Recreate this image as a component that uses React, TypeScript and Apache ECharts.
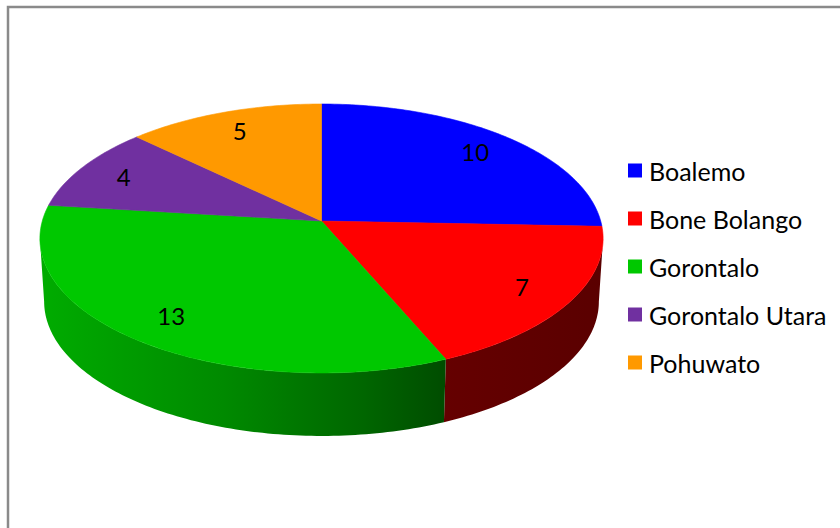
import React, { useEffect, useRef } from "react";
import * as echarts from "echarts";

// ---- data ----
const categories = ["Boalemo", "Bone Bolango", "Gorontalo", "Gorontalo Utara", "Pohuwato"];
const values = [10, 7, 13, 4, 5];
const topColors = ["#0000FF", "#FF0000", "#00C800", "#7030A0", "#FF9900"];
const sideStops = [
  [[0, "#00007a"], [1, "#000050"]],
  [[0, "#650000"], [1, "#5a0000"]],
  [[0, "#00ac00"], [0.45, "#008a00"], [0.8, "#006600"], [1, "#004c00"]],
  [[0, "#3a1656"], [1, "#2a0f40"]],
  [[0, "#8a5200"], [1, "#6a3e00"]],
];

// ---- layout (3D projection of the pie) ----
const CX = 321.5;
const CY = 221;
const RX = 279.2;
const RY = 132.2;
const K = 0.13; // perspective
const DEPTH = 63;
const BOTTOM_SCALE = 0.985;
const LABEL_R = 0.82;

const total = values.reduce((a, b) => a + b, 0);
const cum: number[] = [];
values.reduce((acc, v, i) => {
  cum[i] = acc;
  return acc + v;
}, 0);

function proj(theta: number, r: number, bottom: boolean): number[] {
  const u = r * Math.sin(theta);
  const v = r * Math.cos(theta);
  const w = 1 + K * v;
  const sx = bottom ? BOTTOM_SCALE : 1;
  return [CX + (RX * u * sx) / w, CY - (RY * v) / w + (bottom ? DEPTH : 0)];
}

function arc(a0: number, a1: number, r: number, bottom: boolean): number[][] {
  const n = Math.max(2, Math.ceil((Math.abs(a1 - a0) / (2 * Math.PI)) * 360));
  const pts: number[][] = [];
  for (let i = 0; i <= n; i++) {
    pts.push(proj(a0 + ((a1 - a0) * i) / n, r, bottom));
  }
  return pts;
}

const VIS0 = Math.acos(-K);
const VIS1 = 2 * Math.PI - Math.acos(-K);

function makeRenderItem(idx: number) {
  return (params: any, api: any) => {
    const val = api.value(0);
    const start = (cum[idx] / total) * 2 * Math.PI;
    const end = start + (val / total) * 2 * Math.PI;
    const children: any[] = [];
    const a0 = Math.max(start, VIS0);
    const a1 = Math.min(end, VIS1);
    if (a1 > a0) {
      const pts = arc(a0, a1, 1, false).concat(arc(a1, a0, 1, true));
      const mid = (a0 + a1) / 2;
      children.push({
        type: "polygon",
        shape: { points: pts },
        style: {
          fill: new echarts.graphic.LinearGradient(
            0, 0, 1, 0,
            sideStops[idx].map((s: any) => ({ offset: s[0], color: s[1] }))
          ),
        },
        z2: 10 + Math.round(-Math.cos(mid) * 10),
      });
    }
    const topPts = [[CX, CY]].concat(arc(start, end, 1, false));
    children.push({
      type: "polygon",
      shape: { points: topPts },
      style: { fill: topColors[idx], stroke: topColors[idx], lineWidth: 0.6 },
      z2: 100,
    });
    const m = (start + end) / 2;
    const lp = proj(m, LABEL_R, false);
    children.push({
      type: "text",
      x: lp[0],
      y: lp[1],
      style: {
        text: String(val),
        fill: "#000",
        fontFamily: "Lato",
        fontSize: 24,
        align: "center",
        verticalAlign: "middle",
      },
      z2: 200,
    });
    return { type: "group", children };
  };
}

export default function App() {
  const ref = useRef<HTMLDivElement>(null);
  useEffect(() => {
    document.body.style.margin = "0";
    if (!ref.current) return;
    const chart = echarts.init(ref.current, undefined, { renderer: "svg" });
    chart.setOption({
      animation: false,
      backgroundColor: "#fff",
      legend: {
        orient: "vertical",
        left: 628,
        top: 158,
        padding: 0,
        itemWidth: 14,
        itemHeight: 14,
        itemGap: 23,
        icon: "rect",
        selectedMode: false,
        data: categories,
        textStyle: {
          fontFamily: "Lato",
          fontSize: 25,
          lineHeight: 24,
          color: "#000",
          padding: [0, 0, 0, 2],
        },
      },
      graphic: [
        {
          type: "rect",
          shape: { x: 8, y: 7, width: 900, height: 600 },
          style: { fill: "none", stroke: "#8a8a8a", lineWidth: 2.5 },
          silent: true,
        },
      ],
      series: categories.map((name, i) => ({
        type: "custom",
        name,
        coordinateSystem: "none",
        itemStyle: { color: topColors[i] },
        renderItem: makeRenderItem(i),
        data: [[values[i]]],
        silent: true,
      })),
    });
    return () => chart.dispose();
  }, []);
  return <div ref={ref} style={{ width: 840, height: 528 }} />;
}
